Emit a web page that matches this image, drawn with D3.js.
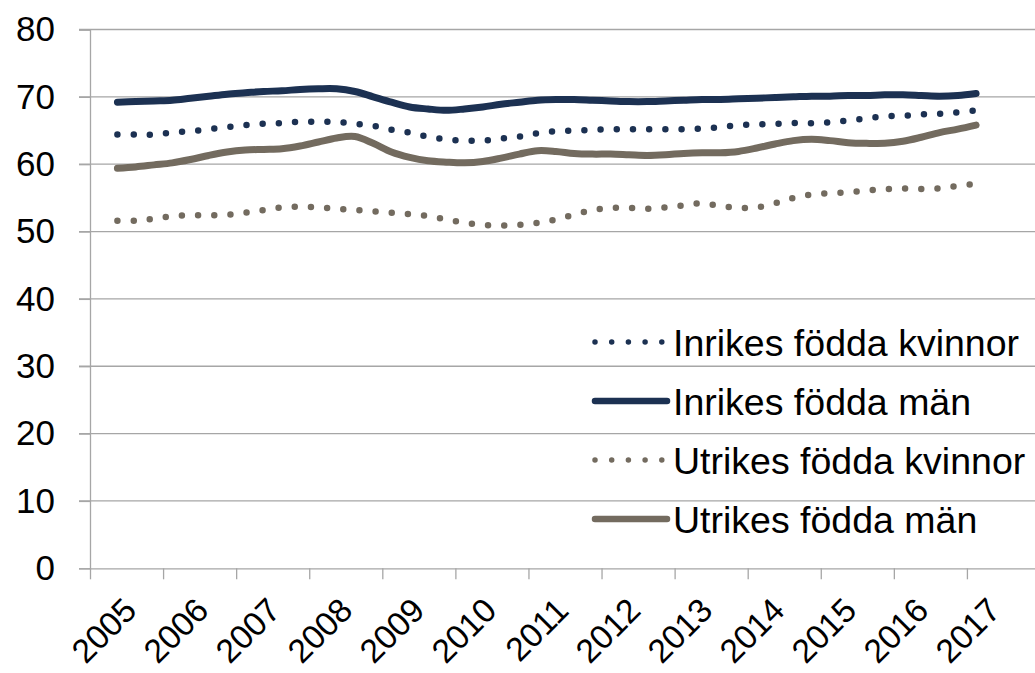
<!DOCTYPE html>
<html>
<head>
<meta charset="utf-8">
<script src="https://cdn.jsdelivr.net/npm/d3@7"></script>
<style>
  body { margin: 0; background: #fff; }
  text { font-family: "Liberation Sans", Arial, sans-serif; fill: #000; }
</style>
</head>
<body>
<svg id="chart" width="1035" height="673"></svg>
<script>
// år på x-axeln
const years = [2005, 2006, 2007, 2008, 2009, 2010, 2011, 2012, 2013, 2014, 2015, 2016, 2017];

// kvartal 2005K2 .. 2017K1
const quarters = [];
years.forEach(yr => [1, 2, 3, 4].forEach(q => quarters.push({year: yr, q: q})));
const periods = quarters.slice(1, 49);

const inrikesKvinnor = [64.4, 64.4, 64.4, 64.7, 64.9, 65.2, 65.5, 65.8, 66.0, 66.1, 66.3, 66.3,
  66.3, 66.0, 65.7, 65.1, 64.7, 64.1, 63.7, 63.5, 63.5, 63.8, 64.1, 64.6,
  64.9, 65.0, 65.1, 65.2, 65.2, 65.2, 65.2, 65.2, 65.3, 65.5, 65.8, 65.9,
  66.0, 66.1, 66.1, 66.2, 66.5, 66.8, 67.1, 67.2, 67.4, 67.5, 67.7, 68.0];

const inrikesMan = [69.2, 69.3, 69.4, 69.5, 69.8, 70.1, 70.4, 70.6, 70.8, 70.9, 71.1, 71.2,
  71.2, 70.8, 70.0, 69.2, 68.5, 68.2, 68.0, 68.2, 68.5, 68.9, 69.2, 69.5,
  69.6, 69.6, 69.5, 69.4, 69.3, 69.3, 69.4, 69.5, 69.6, 69.6, 69.7, 69.8,
  69.9, 70.0, 70.1, 70.1, 70.2, 70.2, 70.3, 70.3, 70.2, 70.1, 70.2, 70.5];

const utrikesKvinnor = [51.6, 51.6, 51.9, 52.3, 52.4, 52.4, 52.5, 52.8, 53.2, 53.6, 53.7, 53.6,
  53.4, 53.2, 53.0, 52.8, 52.6, 52.3, 51.8, 51.3, 51.0, 50.9, 51.0, 51.3,
  51.8, 52.5, 53.2, 53.5, 53.5, 53.4, 53.6, 53.9, 54.2, 53.8, 53.5, 53.6,
  54.2, 55.0, 55.5, 55.7, 55.8, 56.1, 56.3, 56.4, 56.3, 56.4, 56.8, 57.1];

const utrikesMan = [59.4, 59.6, 59.9, 60.2, 60.7, 61.3, 61.8, 62.1, 62.2, 62.3, 62.7, 63.3,
  63.9, 64.1, 63.1, 61.8, 61.0, 60.5, 60.3, 60.2, 60.4, 60.9, 61.5, 62.0,
  61.9, 61.6, 61.5, 61.5, 61.4, 61.3, 61.4, 61.6, 61.7, 61.7, 61.9, 62.4,
  63.0, 63.5, 63.7, 63.5, 63.2, 63.1, 63.1, 63.4, 64.0, 64.7, 65.2, 65.8];

const seriesNames = ["Inrikes födda kvinnor", "Inrikes födda män", "Utrikes födda kvinnor", "Utrikes födda män"];
const yTicks = [0, 10, 20, 30, 40, 50, 60, 70, 80];

const navy = "#1c3152", grey = "#736b5f";
const series = [
  {name: seriesNames[0], values: inrikesKvinnor, color: navy, dotted: true},
  {name: seriesNames[1], values: inrikesMan, color: navy, dotted: false},
  {name: seriesNames[2], values: utrikesKvinnor, color: grey, dotted: true},
  {name: seriesNames[3], values: utrikesMan, color: grey, dotted: false}
];

const svg = d3.select("#chart");
const plot = {left: 90, top: 29.5, bottom: 568.3, right: 1040};

const x = d3.scaleLinear().domain([2005, 2018]).range([plot.left, plot.right]);
const y = d3.scaleLinear().domain([0, 80]).range([plot.bottom, plot.top]);
const xPos = p => x(p.year + (p.q - 0.5) / 4);

// rutnät
svg.append("g")
  .selectAll("line")
  .data(yTicks.filter(d => d > 0))
  .join("line")
  .attr("x1", plot.left - 11).attr("x2", 1035)
  .attr("y1", d => y(d)).attr("y2", d => y(d))
  .attr("stroke", "#a6a6a6").attr("stroke-width", 1.3);

// y-axel
const yAxis = svg.append("g")
  .attr("transform", `translate(${plot.left},0)`)
  .call(d3.axisLeft(y).tickValues(yTicks).tickSize(11).tickPadding(24));
yAxis.selectAll("line, path").attr("stroke", "#a6a6a6").attr("stroke-width", 1.3);
yAxis.selectAll("text").style("font-size", "35px").attr("fill", "#000");

// x-axel
const xAxis = svg.append("g")
  .attr("transform", `translate(0,${plot.bottom})`)
  .call(d3.axisBottom(x).tickValues(years.concat([2018])).tickSize(11).tickFormat(""));
xAxis.select("path").attr("d", `M${plot.left},0.5H1035`);
xAxis.selectAll("line, path").attr("stroke", "#a6a6a6").attr("stroke-width", 1.3);

const labelX = d3.scalePoint().domain(years).range([x(2005.5) + 12, x(2017.5) - 1]);
svg.append("g")
  .selectAll("text")
  .data(years)
  .join("text")
  .attr("transform", d => `translate(${labelX(d)},${plot.bottom + 44}) rotate(-45)`)
  .attr("text-anchor", "end")
  .style("font-size", "33.5px")
  .text(d => d);

// linjer
const line = d3.line()
  .x((d, i) => xPos(periods[i]))
  .y(d => y(d))
  .curve(d3.curveCatmullRom.alpha(0.5));

svg.append("g")
  .selectAll("path")
  .data(series)
  .join("path")
  .attr("d", s => line(s.values))
  .attr("fill", "none")
  .attr("stroke", s => s.color)
  .attr("stroke-width", s => s.dotted ? 6.5 : 7)
  .attr("stroke-linecap", "round")
  .attr("stroke-dasharray", s => s.dotted ? "0 16.2" : null);

// legend
const legend = svg.append("g")
  .selectAll("g")
  .data(series)
  .join("g")
  .attr("transform", (s, i) => `translate(595,${342 + i * 59})`);

legend.append("line")
  .attr("x1", 0).attr("x2", 72)
  .attr("stroke", s => s.color)
  .attr("stroke-width", s => s.dotted ? 5.5 : 6.5)
  .attr("stroke-linecap", "round")
  .attr("stroke-dasharray", s => s.dotted ? "0 16.7" : null);

legend.append("text")
  .attr("x", 78).attr("y", 13.5)
  .style("font-size", "37.5px")
  .text(s => s.name);
</script>
</body>
</html>
